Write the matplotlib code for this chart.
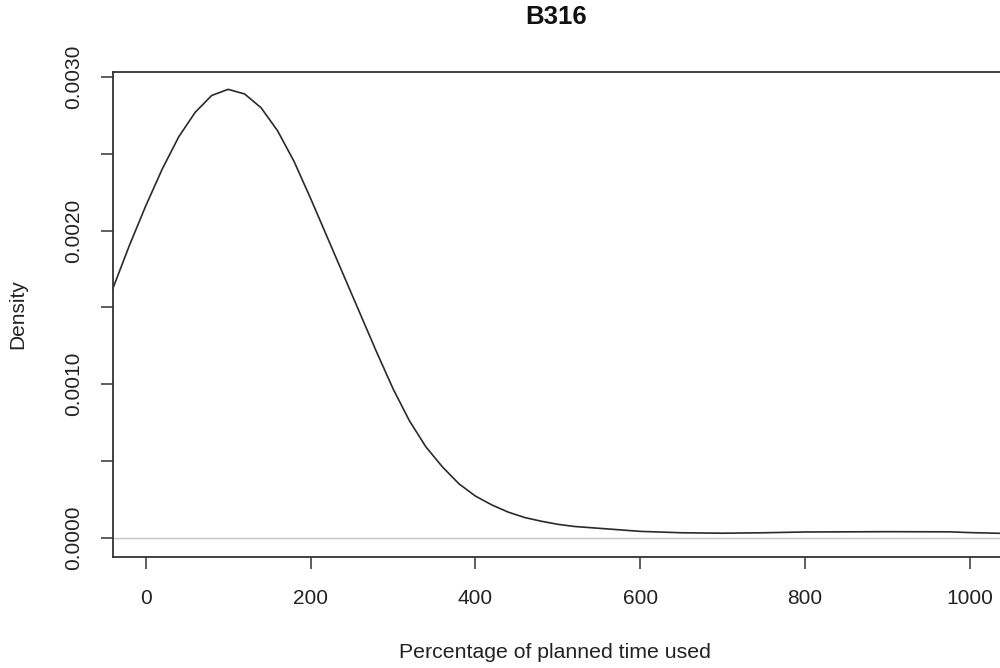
import matplotlib
matplotlib.use("Agg")
import matplotlib.pyplot as plt

# Kernel density estimate of percentage of planned time used (B316)
pct_used = [-40, -20, 0, 20, 40, 60, 80, 100, 120, 140, 160, 180, 200, 220,
            240, 260, 280, 300, 320, 340, 360, 380, 400, 420, 440, 460, 480,
            500, 520, 550, 600, 650, 700, 750, 800, 900, 975, 1000, 1040]
density = [0.001620, 0.001900, 0.002160, 0.002400, 0.002610, 0.002770,
           0.002880, 0.002920, 0.002890, 0.002800, 0.002650, 0.002450,
           0.002210, 0.001960, 0.001710, 0.001460, 0.001210, 0.000970,
           0.000760, 0.000590, 0.000460, 0.000350, 0.000270, 0.000212,
           0.000165, 0.000130, 0.000106, 0.000086, 0.000072, 0.000060,
           0.000040, 0.000031, 0.000028, 0.000031, 0.000036, 0.000038,
           0.000037, 0.000032, 0.000027]

x_ticks = [0, 200, 400, 600, 800, 1000]
y_ticks = [0.0, 0.0005, 0.0010, 0.0015, 0.0020, 0.0025, 0.0030]
y_tick_labels = ["0.0000", "", "0.0010", "", "0.0020", "", "0.0030"]

plt.rcParams["font.family"] = ["Liberation Sans", "DejaVu Sans"]

W, H = 1000, 668
fig = plt.figure(figsize=(W / 100, H / 100), dpi=100)
left, right, top, bottom = 113.3, 1001.0, 71.7, 556.7
ax = fig.add_axes([left / W, 1 - bottom / H, (right - left) / W, (bottom - top) / H])

ax.axhline(0, color="#c4c4c4", lw=1.0, zorder=1)
ax.plot(pct_used, density, color="#2a2a2a", lw=1.2, zorder=2)

ax.set_xlim(-39.3, 1037.6)
ax.set_ylim(-0.000125, 0.003035)

ax.set_xticks(x_ticks)
ax.set_xticklabels([str(v) for v in x_ticks])
ax.set_yticks(y_ticks)
ax.set_yticklabels(y_tick_labels, rotation=90, va="center")

for s in ax.spines.values():
    s.set_color("#333333")
    s.set_linewidth(1.3)

ax.tick_params(axis="both", length=8.5, width=1.1, color="#333333",
               labelsize=15, labelcolor="#222222")
ax.tick_params(axis="x", pad=15)
ax.tick_params(axis="y", pad=13)

ax.set_xlabel("Percentage of planned time used", fontsize=15.3, color="#222222")
ax.xaxis.set_label_coords((555 - left) / (right - left), -(652 - bottom) / (bottom - top))
ax.xaxis.label.set_va("center")
ax.set_ylabel("Density", fontsize=15, color="#222222")
ax.yaxis.set_label_coords(-(left - 17.5) / (right - left), 0.5)
ax.yaxis.label.set_va("center")

fig.text(556 / W, 1 - 17.5 / H, "B316", fontsize=18.5, fontweight="bold",
         ha="center", va="center", color="#111111")

fig.savefig("out.png", dpi=100, facecolor="white")
